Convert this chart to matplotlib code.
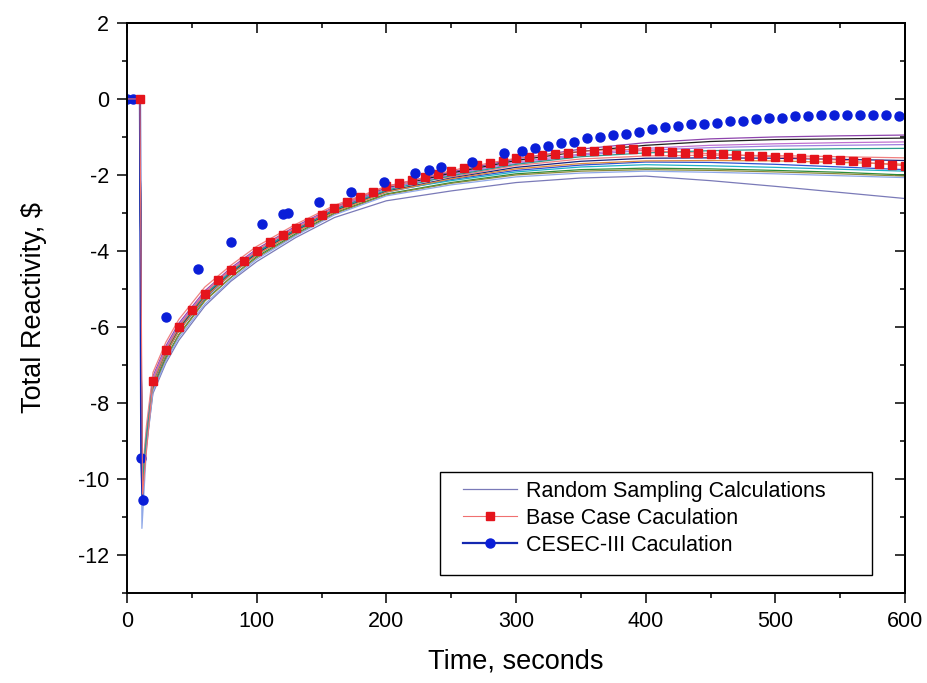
"""Total reactivity transient: random sampling runs vs base case vs CESEC-III."""

import matplotlib

matplotlib.use("Agg")
import matplotlib.pyplot as plt  # noqa: E402
from matplotlib.patches import Rectangle  # noqa: E402
from matplotlib.ticker import MultipleLocator  # noqa: E402

plt.rcParams["font.family"] = ["Liberation Sans", "DejaVu Sans"]
plt.rcParams["axes.unicode_minus"] = False

# ---- data ------------------------------------------------------------------
# time grid shared by the random sampling runs (s)
sample_time = [0, 10, 11.5, 15, 20, 30, 40, 60, 80, 100, 130, 160,
               200, 250, 300, 350, 400, 450, 500, 550, 600]

sample_colors = ["#7a7ab8", "#8e44ad", "#2e8b3a", "#3050d0", "#20b0c8",
                 "#c070d0", "#202020", "#f08080", "#8b8b3a", "#1a237e",
                 "#a080e0", "#e08a3c", "#8fa8e8", "#2a9d8f"]

sample_runs = [
    [0, 0, -10.25, -9.1, -7.75, -6.95, -6.35, -5.45, -4.8, -4.28, -3.65, -3.12,
     -2.68, -2.42, -2.2, -2.08, -2.03, -2.15, -2.3, -2.46, -2.62],
    [0, 0, -10.1, -8.8, -7.3, -6.5, -5.9, -5.05, -4.45, -3.95, -3.35, -2.84,
     -2.3, -1.92, -1.58, -1.32, -1.15, -1.05, -1.0, -0.97, -0.95],
    [0, 0, -10.25, -9.0, -7.6, -6.8, -6.2, -5.3, -4.7, -4.15, -3.55, -3.0,
     -2.5, -2.2, -1.97, -1.86, -1.82, -1.84, -1.88, -1.93, -2.0],
    [0, 0, -10.3, -9.1, -7.55, -6.7, -6.1, -5.25, -4.62, -4.1, -3.5, -2.95,
     -2.45, -2.12, -1.88, -1.74, -1.66, -1.67, -1.72, -1.79, -1.86],
    [0, 0, -10.2, -9.0, -7.5, -6.7, -6.05, -5.2, -4.58, -4.05, -3.45, -2.93,
     -2.42, -2.15, -1.92, -1.79, -1.73, -1.76, -1.8, -1.85, -1.9],
    [0, 0, -10.1, -8.8, -7.35, -6.55, -5.95, -5.08, -4.48, -3.98, -3.38, -2.86,
     -2.33, -1.98, -1.66, -1.45, -1.3, -1.22, -1.18, -1.15, -1.13],
    [0, 0, -10.2, -8.9, -7.45, -6.65, -6.02, -5.15, -4.55, -4.02, -3.43, -2.9,
     -2.35, -1.95, -1.62, -1.38, -1.22, -1.12, -1.07, -1.05, -1.03],
    [0, 0, -10.0, -8.6, -7.2, -6.4, -5.8, -4.95, -4.38, -3.88, -3.3, -2.8,
     -2.3, -2.05, -1.75, -1.58, -1.5, -1.48, -1.49, -1.52, -1.55],
    [0, 0, -10.25, -9.05, -7.65, -6.85, -6.22, -5.32, -4.7, -4.18, -3.58, -3.02,
     -2.52, -2.22, -2.0, -1.9, -1.86, -1.88, -1.92, -1.97, -2.03],
    [0, 0, -10.2, -8.95, -7.5, -6.7, -6.08, -5.2, -4.6, -4.07, -3.47, -2.94,
     -2.43, -2.08, -1.8, -1.64, -1.56, -1.55, -1.56, -1.59, -1.62],
    [0, 0, -10.15, -8.85, -7.4, -6.6, -5.98, -5.12, -4.52, -4.0, -3.4, -2.88,
     -2.36, -2.0, -1.7, -1.48, -1.35, -1.28, -1.24, -1.22, -1.2],
    [0, 0, -10.2, -8.95, -7.5, -6.7, -6.1, -5.22, -4.62, -4.1, -3.5, -2.97,
     -2.45, -2.1, -1.84, -1.7, -1.63, -1.62, -1.63, -1.67, -1.72],
    [0, 0, -11.3, -9.2, -7.7, -6.9, -6.28, -5.4, -4.76, -4.22, -3.6, -3.05,
     -2.55, -2.26, -2.05, -1.95, -1.9, -1.93, -1.97, -2.02, -2.07],
    [0, 0, -10.2, -8.9, -7.45, -6.62, -6.0, -5.15, -4.55, -4.03, -3.44, -2.92,
     -2.4, -2.02, -1.72, -1.52, -1.42, -1.36, -1.33, -1.31, -1.3],
]

# base case: flat, step drop at ~10 s, then markers every 10 s
base_time = [0, 5, 10, 12] + list(range(20, 601, 10))
base_value = [0, 0, 0, -10.4,
              -7.42, -6.6, -6.0, -5.55, -5.12, -4.77, -4.5, -4.27, -4.0, -3.77,
              -3.58, -3.4, -3.23, -3.05, -2.87, -2.71, -2.58, -2.44, -2.3, -2.22,
              -2.14, -2.06, -1.97, -1.89, -1.81, -1.75, -1.68, -1.62, -1.56, -1.52,
              -1.48, -1.44, -1.41, -1.38, -1.36, -1.34, -1.33, -1.33, -1.36, -1.38,
              -1.39, -1.41, -1.42, -1.44, -1.45, -1.47, -1.49, -1.51, -1.52, -1.54,
              -1.55, -1.57, -1.59, -1.61, -1.64, -1.67, -1.7, -1.73, -1.76]

# CESEC-III: drop segment drawn with a line, later points as markers only
cesec_drop_time = [0, 5, 10, 11, 12]
cesec_drop_value = [0, 0, 0, -9.45, -10.55]
cesec_time = [30, 55, 80, 104, 120, 124, 148, 173, 198, 222, 233, 242, 266, 291] \
    + list(range(305, 600, 10))
cesec_value = [-5.75, -4.47, -3.77, -3.28, -3.02, -2.99, -2.71, -2.44, -2.19,
               -1.94, -1.86, -1.78, -1.65, -1.41,
               -1.36, -1.28, -1.23, -1.15, -1.12, -1.04, -0.99, -0.96, -0.91, -0.86,
               -0.8, -0.75, -0.72, -0.67, -0.65, -0.62, -0.59, -0.57, -0.54, -0.51,
               -0.49, -0.46, -0.46, -0.43, -0.43, -0.41, -0.41, -0.41, -0.43, -0.46]

# ---- plot --------------------------------------------------------------------
fig = plt.figure(figsize=(9.27, 6.83), dpi=100)
ax = fig.add_axes([0.137, 0.1318, 0.8393, 0.8346])

for i, (run, col) in enumerate(zip(sample_runs, sample_colors)):
    ax.plot(sample_time, run, color=col, lw=0.9,
            label="Random Sampling Calculations" if i == 0 else None)

ax.plot(cesec_drop_time, cesec_drop_value, color="#1428b0", lw=1.6, marker="o",
        ms=6.5, mfc="#0a1ed8", mec="#0a1ed8", markevery=[0, 1, 3, 4],
        label="CESEC-III Caculation")

marks = [i for i, t in enumerate(base_time) if t not in (0, 5, 12)]
ax.plot(base_time, base_value, color="#f07070", lw=0.8, marker="s", ms=5.5,
        mfc="#e5141c", mec="#e5141c", markevery=marks,
        label="Base Case Caculation")

ax.plot(cesec_time, cesec_value, ls="none", marker="o", ms=6.5,
        mfc="#0a1ed8", mec="#0a1ed8")

ax.set_xlim(0, 600)
ax.set_ylim(-13, 2)
ax.xaxis.set_major_locator(MultipleLocator(100))
ax.xaxis.set_minor_locator(MultipleLocator(50))
ax.yaxis.set_major_locator(MultipleLocator(2))
ax.yaxis.set_minor_locator(MultipleLocator(1))
ax.tick_params(which="both", direction="out", width=1.1, labelsize=15.5,
               top=False, right=False)
ax.tick_params(which="major", length=7, pad=6)
ax.tick_params(which="minor", length=3.5)
for sp in ax.spines.values():
    sp.set_linewidth(1.4)

# mirrored inward ticks on the right and top
sec_y = ax.secondary_yaxis("right")
sec_y.yaxis.set_major_locator(MultipleLocator(2))
sec_y.yaxis.set_minor_locator(MultipleLocator(1))
sec_y.tick_params(which="both", direction="in", width=1.1, labelright=False)
sec_y.tick_params(which="major", length=7)
sec_y.tick_params(which="minor", length=3.5)
sec_x = ax.secondary_xaxis("top")
sec_x.xaxis.set_major_locator(MultipleLocator(100))
sec_x.xaxis.set_minor_locator(MultipleLocator(50))
sec_x.tick_params(which="both", direction="in", width=1.1, labeltop=False)
sec_x.tick_params(which="major", length=7)
sec_x.tick_params(which="minor", length=3.5)
for s in (sec_x, sec_y):
    for sp in s.spines.values():
        sp.set_linewidth(1.4)

ax.set_xlabel("Time, seconds", fontsize=19.5, labelpad=12)
ax.set_ylabel("Total Reactivity, \\$", fontsize=19.5, labelpad=22)

# legend: Origin-style box with generous padding, drawn as a separate frame
box = Rectangle((0.4023, 0.0316), 0.5553, 0.1807, transform=ax.transAxes,
                facecolor="white", edgecolor="black", lw=1.0, zorder=4)
ax.add_patch(box)
h, lab = ax.get_legend_handles_labels()
order = [lab.index("Random Sampling Calculations"),
         lab.index("Base Case Caculation"), lab.index("CESEC-III Caculation")]
leg = ax.legend([h[k] for k in order], [lab[k] for k in order],
                loc="upper left", bbox_to_anchor=(0.432, 0.197),
                borderaxespad=0, borderpad=0, fontsize=15.5, frameon=False,
                handlelength=2.5, handletextpad=0.4, labelspacing=0.28)
leg.set_zorder(5)

fig.savefig("out.png", dpi=100)
